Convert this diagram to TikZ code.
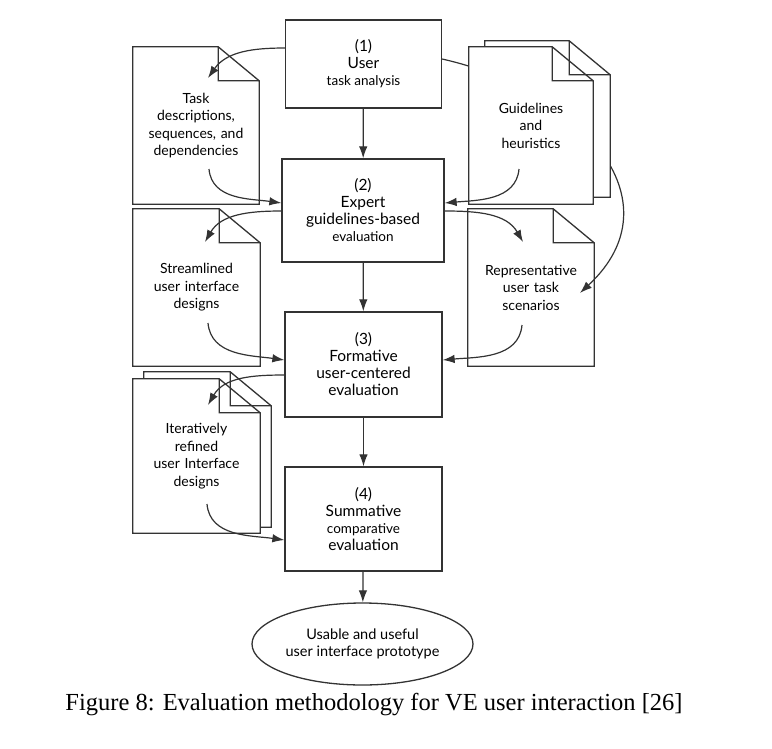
\documentclass[tikz,border=0pt]{standalone}
\usepackage{fontspec}
\usetikzlibrary{arrows.meta,shapes.geometric}
\newfontfamily\diagfont{Lato}
\newfontfamily\captionfont{Liberation Serif}
\newcommand{\minor}{\fontsize{13.5}{16}\selectfont}
\definecolor{linegray}{gray}{0.2}
\pgfdeclarelayer{background}
\pgfsetlayers{background,main}
% page with a folded top right corner, drawn round a node
\newcommand{\pageoutline}[1]{%
  \draw[pageline] (#1.north west) -- ([xshift=-41pt]#1.north east)
    -- ([yshift=-34pt]#1.north east) -- (#1.south east) -- (#1.south west) -- cycle
    ([xshift=-41pt]#1.north east) |- ([yshift=-34pt]#1.north east);}

\begin{document}
\begin{tikzpicture}[
  x=1pt, y=-1pt,
  box/.style={rectangle, draw=linegray, line width=1.3pt, inner sep=0pt, align=center,
    font=\diagfont\fontsize{15.5}{17}\selectfont},
  page/.style={rectangle, inner sep=0pt, minimum width=126pt, minimum height=157pt,
    text width=115pt, align=center, font=\diagfont\fontsize{14}{17.5}\selectfont},
  pageline/.style={draw=linegray, line width=1.3pt, fill=white},
  outcome/.style={ellipse, draw=linegray, line width=1.3pt, inner sep=0pt,
    minimum width=221pt, minimum height=82pt, align=center,
    font=\diagfont\fontsize{14.5}{17}\selectfont},
  line/.style={draw=linegray, line width=1.2pt, -{Latex[length=12pt,width=8.5pt]}}
  ]
\useasboundingbox (0,0) rectangle (772,748);

% main steps
\node [box, minimum width=156pt, minimum height=88pt] (analysis) at (363.5,64) {(1)\\User\\{\minor task analysis}};
\node [box, minimum width=162pt, minimum height=103pt] (expert) at (363,210.5) {(2)\\Expert\\guidelines-based\\{\minor evaluation}};
\node [box, minimum width=157pt, minimum height=105pt] (formative) at (363.5,364.5) {(3)\\Formative\\user-centered\\evaluation};
\node [box, minimum width=157pt, minimum height=104pt] (summative) at (363.5,519) {(4)\\Summative\\{\minor comparative}\\evaluation};
\node [outcome] (prototype) at (362.5,644) {Usable and useful\\user interface prototype};

% documents
\node [page] (tasks) at (196,125.5) {Task\\descriptions,\\sequences, and\\dependencies};
\node [page, minimum width=125pt, minimum height=156pt] (guide_back) at (547.5,119) {};
\node [page, minimum width=124pt] (guide) at (531,125.5) {Guidelines\\and\\heuristics};
\node [page, minimum width=127pt] (streamlined) at (196.5,287.5) {Streamlined\\user interface\\designs};
\node [page] (scenarios) at (531,287.5) {Representative\\user task\\scenarios};
\node [page, minimum width=127pt, minimum height=155pt] (refined_back) at (207.5,449.5) {};
\node [page, minimum width=127pt, minimum height=154pt] (refined) at (196.5,456) {Iteratively\\refined\\user Interface\\designs};

\coordinate (tasks_in) at (208,78);
\coordinate (tasks_out) at (209,169);
\coordinate (guide_out) at (519,169);
\coordinate (streamlined_in) at (205,242);
\coordinate (streamlined_out) at (208,323);
\coordinate (scenarios_in) at (523,242);
\coordinate (scenarios_top) at (580,293);
\coordinate (scenarios_out) at (522,325);
\coordinate (refined_in) at (208,405);
\coordinate (refined_out) at (207,504);

\begin{pgfonlayer}{background}
\pageoutline{scenarios}
\path [line] ([yshift=5pt]analysis.east) .. controls (580,90) and (680,200) .. (scenarios_top);
\pageoutline{guide_back}
\pageoutline{guide}
\pageoutline{tasks}
\pageoutline{streamlined}
\pageoutline{refined_back}
\pageoutline{refined}
\end{pgfonlayer}

\path [line] (analysis) -- (expert);
\path [line] (expert) -- (formative);
\path [line] (formative) -- (summative);
\path [line] (summative) -- (prototype);

\path [line] ([yshift=16pt]analysis.west) to[out=180, in=55] (tasks_in);
\path [line] (tasks_out) to[out=-85, in=172] ([yshift=7.5pt]expert.west);
\path [line] (guide_out) to[out=-95, in=5] ([yshift=7.5pt]expert.east);
\path [line] ([yshift=-0.5pt]expert.west) to[out=180, in=60] (streamlined_in);
\path [line] ([yshift=-0.5pt]expert.east) to[out=0, in=120] (scenarios_in);
\path [line] (streamlined_out) to[out=-85, in=172] ([yshift=4.5pt]formative.west);
\path [line] (scenarios_out) to[out=-95, in=5] ([yshift=4.5pt]formative.east);
\path [line] ([yshift=-10.5pt]formative.west) to[out=180, in=60] (refined_in);
\path [line] (refined_out) to[out=-85, in=172] ([yshift=-21pt]summative.west);

\node [font=\captionfont\fontsize{24.5}{30}\selectfont, anchor=base] (caption) at (374,710) {Figure 8: Evaluation methodology for VE user interaction [26]};
\end{tikzpicture}
\end{document}
